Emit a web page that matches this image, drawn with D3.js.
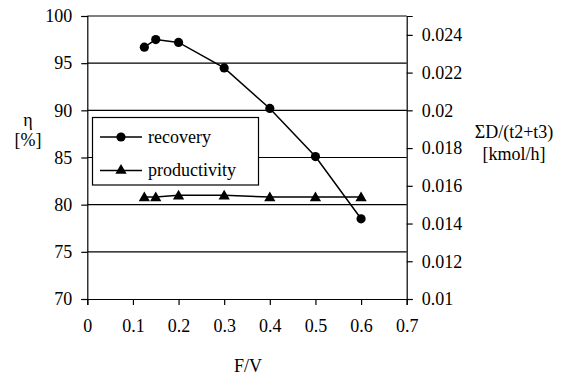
<!DOCTYPE html>
<html>
<head>
<meta charset="utf-8">
<script src="https://cdn.jsdelivr.net/npm/d3@7"></script>
<style>
  body { margin: 0; background: #fff; }
  text { font-family: Liberation Serif, serif; }
</style>
</head>
<body>
<svg id="chart" width="569" height="378"></svg>
<script>
// F/V ratio for each run
const fv = [0.125, 0.15, 0.2, 0.3, 0.4, 0.5, 0.6];
// recovery η [%]
const recovery = [96.7, 97.5, 97.2, 94.5, 90.2, 85.1, 78.5];
// productivity ΣD/(t2+t3) [kmol/h]
const productivity = [0.0154, 0.0154, 0.0155, 0.0155, 0.0154, 0.0154, 0.0154];

const xTicks = [0, 0.1, 0.2, 0.3, 0.4, 0.5, 0.6, 0.7];
const yLeftTicks = [70, 75, 80, 85, 90, 95, 100];
const yRightTicks = [0.01, 0.012, 0.014, 0.016, 0.018, 0.02, 0.022, 0.024];

const FONT = "Liberation Serif";
const svg = d3.select("#chart");
const plotL = 87.3, plotR = 406.7, plotT = 16, plotB = 299;
const fs = 18;

const x = d3.scaleLinear().domain([0, 0.7]).range([plotL, plotR]);
const yL = d3.scaleLinear().domain([70, 100]).range([plotB, plotT]);
const yR = d3.scaleLinear().domain([0.01, 0.025]).range([plotB, plotT]);

// horizontal gridlines (the one at 100 closes the frame on top)
svg.append("g").selectAll("line")
  .data(yLeftTicks.filter(d => d > 70))
  .join("line")
  .attr("x1", plotL).attr("x2", plotR)
  .attr("y1", d => yL(d)).attr("y2", d => yL(d))
  .attr("stroke", "#000").attr("stroke-width", 1.2);

// left axis
const gL = svg.append("g").attr("transform", `translate(${plotL},0)`)
  .call(d3.axisLeft(yL).tickValues(yLeftTicks).tickSize(6).tickPadding(9).tickFormat(d3.format("d")));
// right axis
const gR = svg.append("g").attr("transform", `translate(${plotR},0)`)
  .call(d3.axisRight(yR).tickValues(yRightTicks).tickSize(6).tickPadding(9).tickFormat(d => String(+d.toFixed(3))));
// bottom axis
const gB = svg.append("g").attr("transform", `translate(0,${plotB})`)
  .call(d3.axisBottom(x).tickValues(xTicks).tickSize(6).tickPadding(14).tickFormat(d => String(d)));

[gL, gR, gB].forEach(g => {
  g.attr("font-family", FONT).attr("font-size", fs);
  g.select(".domain").attr("stroke", "#000").attr("stroke-width", 1.2);
  g.selectAll(".tick line").attr("stroke", "#000").attr("stroke-width", 1.2);
  g.selectAll(".tick text").attr("fill", "#000").attr("font-family", FONT);
});

// recovery series
const recPts = fv.map((d, i) => [d, recovery[i]]);
svg.append("path")
  .datum(recPts)
  .attr("fill", "none").attr("stroke", "#000").attr("stroke-width", 1.5)
  .attr("d", d3.line().x(d => x(d[0])).y(d => yL(d[1])));
svg.append("g").selectAll("circle")
  .data(recPts)
  .join("circle")
  .attr("cx", d => x(d[0])).attr("cy", d => yL(d[1])).attr("r", 4.6).attr("fill", "#000");

// productivity series
const prodPts = fv.map((d, i) => [d, productivity[i]]);
const tri = d3.symbol().type(d3.symbolTriangle).size(55);
svg.append("path")
  .datum(prodPts)
  .attr("fill", "none").attr("stroke", "#000").attr("stroke-width", 1.5)
  .attr("d", d3.line().x(d => x(d[0])).y(d => yR(d[1])));
svg.append("g").selectAll("path")
  .data(prodPts)
  .join("path")
  .attr("d", tri)
  .attr("transform", d => `translate(${x(d[0])},${yR(d[1]) + 1})`)
  .attr("fill", "#000");

// legend
const lg = svg.append("g");
lg.append("rect").attr("x", 92.5).attr("y", 117.5).attr("width", 166).attr("height", 67.5)
  .attr("fill", "#fff").attr("stroke", "#000").attr("stroke-width", 1.2);
const legendItems = [
  { label: "recovery", y: 137, mark: "circle" },
  { label: "productivity", y: 170.5, mark: "triangle" }
];
legendItems.forEach(it => {
  lg.append("line").attr("x1", 100).attr("x2", 142).attr("y1", it.y).attr("y2", it.y)
    .attr("stroke", "#000").attr("stroke-width", 1.5);
  if (it.mark === "circle") {
    lg.append("circle").attr("cx", 121).attr("cy", it.y).attr("r", 4.6).attr("fill", "#000");
  } else {
    lg.append("path").attr("d", tri).attr("transform", `translate(121,${it.y})`).attr("fill", "#000");
  }
  lg.append("text").attr("x", 148).attr("y", it.y).attr("dy", "0.33em")
    .attr("font-family", FONT).attr("font-size", fs).text(it.label);
});

// axis titles
const title = (tx, ty, s) => svg.append("text").attr("x", tx).attr("y", ty).attr("dy", "0.33em")
  .attr("text-anchor", "middle").attr("font-family", FONT).attr("font-size", fs).text(s);
title(28, 120, "η");
title(28, 140, "[%]");
title(514, 132, "ΣD/(t2+t3)");
title(514, 154, "[kmol/h]");
title(248, 366, "F/V");
</script>
</body>
</html>
